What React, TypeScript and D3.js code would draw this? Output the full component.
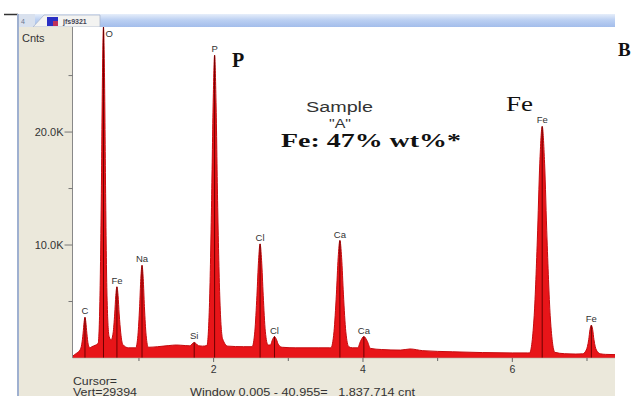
import { useMemo } from "react";
import * as d3 from "d3";

const W = 637;
const H = 396;

// EDS spectrum: [energy keV, counts]
const spectrum: [number, number][] = [
  [0.11, 150], [0.16, 400], [0.21, 700],
  // C
  [0.234, 1220], [0.252, 2200], [0.265, 3150], [0.277, 3600], [0.289, 3150],
  [0.302, 2200], [0.32, 1220], [0.342, 900], [0.37, 1000],
  // O
  [0.454, 1300], [0.478, 5500], [0.4975, 15300], [0.511, 24800], [0.525, 29300],
  [0.539, 24800], [0.5525, 15300], [0.572, 5500], [0.6, 1900],
  // Fe L
  [0.627, 1600], [0.654, 2220], [0.675, 3900], [0.69, 5530], [0.705, 6300],
  [0.72, 5530], [0.735, 3900], [0.756, 2220], [0.783, 1200], [0.86, 900],
  // Na
  [0.957, 900], [0.986, 2000], [1.009, 4550], [1.025, 7030], [1.041, 8200],
  [1.057, 7030], [1.073, 4550], [1.096, 2000], [1.126, 950],
  [1.25, 1000], [1.4, 1100], [1.5, 1150], [1.62, 1100],
  // Si
  [1.68, 1080], [1.72, 1300], [1.74, 1380], [1.76, 1300], [1.8, 1080], [1.85, 1050],
  // P
  [1.91, 1100], [1.945, 4910], [1.973, 13950], [1.994, 22650], [2.013, 26800],
  [2.032, 22650], [2.053, 13950], [2.082, 5500], [2.12, 1700], [2.19, 1050],
  [2.4, 1000], [2.5, 1000],
  // Cl
  [2.515, 1000], [2.552, 2370], [2.58, 5550], [2.602, 8650], [2.622, 10100],
  [2.642, 8650], [2.664, 5550], [2.692, 2370], [2.728, 1150],
  [2.76, 1150], [2.79, 1650], [2.815, 1900], [2.84, 1650], [2.87, 1150], [2.92, 950],
  [3.1, 900], [3.4, 900], [3.55, 900],
  // Ca
  [3.57, 900], [3.612, 2330], [3.644, 5650], [3.668, 8880], [3.691, 10400],
  [3.714, 8880], [3.738, 5650], [3.77, 2330], [3.81, 1000], [3.86, 900],
  [3.93, 900], [3.965, 1450], [4.012, 1900], [4.06, 1450], [4.1, 850],
  [4.25, 750], [4.5, 700], [4.63, 800], [4.8, 650], [5.2, 550], [5.6, 480],
  [6.0, 450], [6.2, 450],
  // Fe K
  [6.23, 450], [6.29, 3450], [6.335, 10450], [6.368, 17250], [6.4, 20500],
  [6.432, 17250], [6.465, 10450], [6.51, 3450], [6.57, 500],
  [6.7, 380], [6.85, 350], [6.94, 370],
  [6.99, 700], [7.023, 1620], [7.04, 2500], [7.058, 2900], [7.076, 2500],
  [7.093, 1620], [7.126, 700], [7.18, 370], [7.25, 320], [7.375, 300],
];

const peakNames = ["C", "O", "Fe", "Na", "Si", "P", "Cl", "Cl", "Ca", "Ca", "Fe", "Fe"];
const peakEnergies = [0.277, 0.525, 0.705, 1.041, 1.74, 2.013, 2.622, 2.815, 3.691, 4.012, 6.4, 7.058];
const peakCounts = [3600, 29300, 6300, 8200, 1380, 26800, 10100, 1900, 10400, 1900, 20500, 2900];

const yMajorTicks = [10000, 20000];
const yMinorTicks = [5000, 15000, 25000];
const xMajorTicks = [2, 4, 6];
const xMinorTicks = [1, 3, 5, 7];

const sans = "'Liberation Sans', Arial, sans-serif";
const serif = "'Liberation Serif', 'Times New Roman', serif";

export default function App() {
  const left = 72.5;
  const right = 615;
  const top = 27;
  const bottom = 358;

  const x = useMemo(
    () => d3.scaleLinear().domain([0.11, 7.375]).range([left, right]),
    [],
  );
  const y = useMemo(
    () => d3.scaleLinear().domain([0, 29300]).range([bottom, top]),
    [],
  );

  const area = d3
    .area<[number, number]>()
    .x((d) => x(d[0]))
    .y0(bottom)
    .y1((d) => y(d[1]))
    .curve(d3.curveMonotoneX);
  const line = d3
    .line<[number, number]>()
    .x((d) => x(d[0]))
    .y((d) => y(d[1]))
    .curve(d3.curveMonotoneX);

  return (
    <svg
      width={W}
      height={H}
      style={{ position: "absolute", left: 0, top: 0, background: "#fff" }}
    >
      <defs>
        <linearGradient id="tabbar" x1="0" y1="0" x2="0" y2="1">
          <stop offset="0" stopColor="#e6eefa" />
          <stop offset="0.45" stopColor="#bcd0f2" />
          <stop offset="1" stopColor="#a3bdeb" />
        </linearGradient>
      </defs>

      {/* window chrome */}
      <line x1={4} x2={18} y1={14.5} y2={14.5} stroke="#333" strokeWidth={1.5} />
      <rect x={17} y={14} width={right - 17} height={13} fill="url(#tabbar)" />
      <rect x={17} y={14} width={18} height={13} fill="#d9e1ee" />
      <polygon points="33,27 44,15 100,15 100,27" fill="#f3f3f1" stroke="#a9b6cf" strokeWidth={0.8} />
      <text x={21} y={23.5} fontFamily={sans} fontSize={7} fill="#6a7690">4</text>
      <rect x={47} y={17} width={11} height={9} fill="#2a2fc4" />
      <rect x={53} y={21} width={5} height={5} fill="#c0305a" />
      <text x={63} y={24} fontFamily={sans} fontSize={7} fontWeight="bold" fill="#445">jfs9321</text>

      <rect x={17} y={27} width={left - 17} height={H - 27} fill="#ebe8db" />
      <rect x={17} y={bottom} width={right - 17} height={H - bottom} fill="#ebe8db" />
      <line x1={18} x2={18} y1={14} y2={H} stroke="#9fb0d0" strokeWidth={2} />
      <rect x={left} y={top} width={right - left} height={bottom - top} fill="#fff" />

      {/* spectrum */}
      <path d={area(spectrum) ?? ""} fill="#e81519" />
      <path d={line(spectrum) ?? ""} fill="none" stroke="#c40a0e" strokeWidth={1} />

      {/* KLM marker lines */}
      {peakEnergies.map((e, i) => (
        <line
          key={`m${i}`}
          x1={x(e)}
          x2={x(e)}
          y1={bottom}
          y2={y(peakCounts[i])}
          stroke="#6e0000"
          strokeWidth={1}
        />
      ))}

      {/* peak labels */}
      {peakNames.map((n, i) => {
        const px = x(peakEnergies[i]);
        const py = y(peakCounts[i]) - 3;
        const clamped = py < top + 10;
        return (
          <text
            key={`l${i}`}
            x={clamped ? px + 2 : px}
            y={clamped ? top + 10 : py}
            textAnchor={clamped ? "start" : "middle"}
            fontFamily={sans}
            fontSize={9.5}
            fill="#333"
          >
            {n}
          </text>
        );
      })}

      {/* y axis */}
      <line x1={left} x2={left} y1={top} y2={bottom} stroke="#888" />
      {yMajorTicks.map((t) => (
        <g key={`ym${t}`}>
          <line x1={left - 8} x2={left} y1={y(t)} y2={y(t)} stroke="#777" />
          <text x={left - 9} y={y(t) + 4} textAnchor="end" fontFamily={sans} fontSize={11} fill="#333">
            {d3.format(".1f")(t / 1000)}K
          </text>
        </g>
      ))}
      {yMinorTicks.map((t) => (
        <line key={`yn${t}`} x1={left - 4} x2={left} y1={y(t)} y2={y(t)} stroke="#777" />
      ))}
      <text x={22} y={42} fontFamily={sans} fontSize={11} fill="#333">Cnts</text>

      {/* x axis */}
      <line x1={left} x2={right} y1={bottom} y2={bottom} stroke="#b0a9a0" strokeWidth={0.6} />
      {xMajorTicks.map((t) => (
        <g key={`xm${t}`}>
          <line x1={x(t)} x2={x(t)} y1={bottom} y2={bottom + 4} stroke="#666" />
          <text x={x(t)} y={bottom + 15} textAnchor="middle" fontFamily={sans} fontSize={10.5} fill="#333">
            {t}
          </text>
        </g>
      ))}
      {xMinorTicks.map((t) => (
        <line key={`xn${t}`} x1={x(t)} x2={x(t)} y1={bottom} y2={bottom + 3} stroke="#666" />
      ))}

      {/* status text */}
      <text x={73} y={385} fontFamily={sans} fontSize={11} fill="#333" textLength={44} lengthAdjust="spacingAndGlyphs">Cursor=</text>
      <text x={73} y={395.5} fontFamily={sans} fontSize={10.5} fill="#333" textLength={64} lengthAdjust="spacingAndGlyphs">Vert=29394</text>
      <text x={190} y={395.5} fontFamily={sans} fontSize={10.5} fill="#333" xmlSpace="preserve" textLength={225} lengthAdjust="spacingAndGlyphs">
        Window 0.005 - 40.955=   1.837,714 cnt
      </text>

      {/* annotations */}
      <text x={232} y={67} fontFamily={serif} fontSize={20} fontWeight="bold" fill="#111">P</text>
      <text x={618} y={56} fontFamily={serif} fontSize={19} fontWeight="bold" fill="#111">B</text>
      <text x={506} y={111} fontFamily={serif} fontSize={20} fill="#111" textLength={27} lengthAdjust="spacingAndGlyphs">Fe</text>
      <text x={306} y={112} fontFamily={sans} fontSize={14} fill="#333" textLength={67} lengthAdjust="spacingAndGlyphs">Sample</text>
      <text x={329} y={128} fontFamily={sans} fontSize={12} fill="#333" textLength={22} lengthAdjust="spacingAndGlyphs">"A"</text>
      <text x={281} y={147} fontFamily={serif} fontSize={18} fontWeight="bold" fill="#111" textLength={180} lengthAdjust="spacingAndGlyphs">
        Fe: 47% wt%*
      </text>
    </svg>
  );
}
